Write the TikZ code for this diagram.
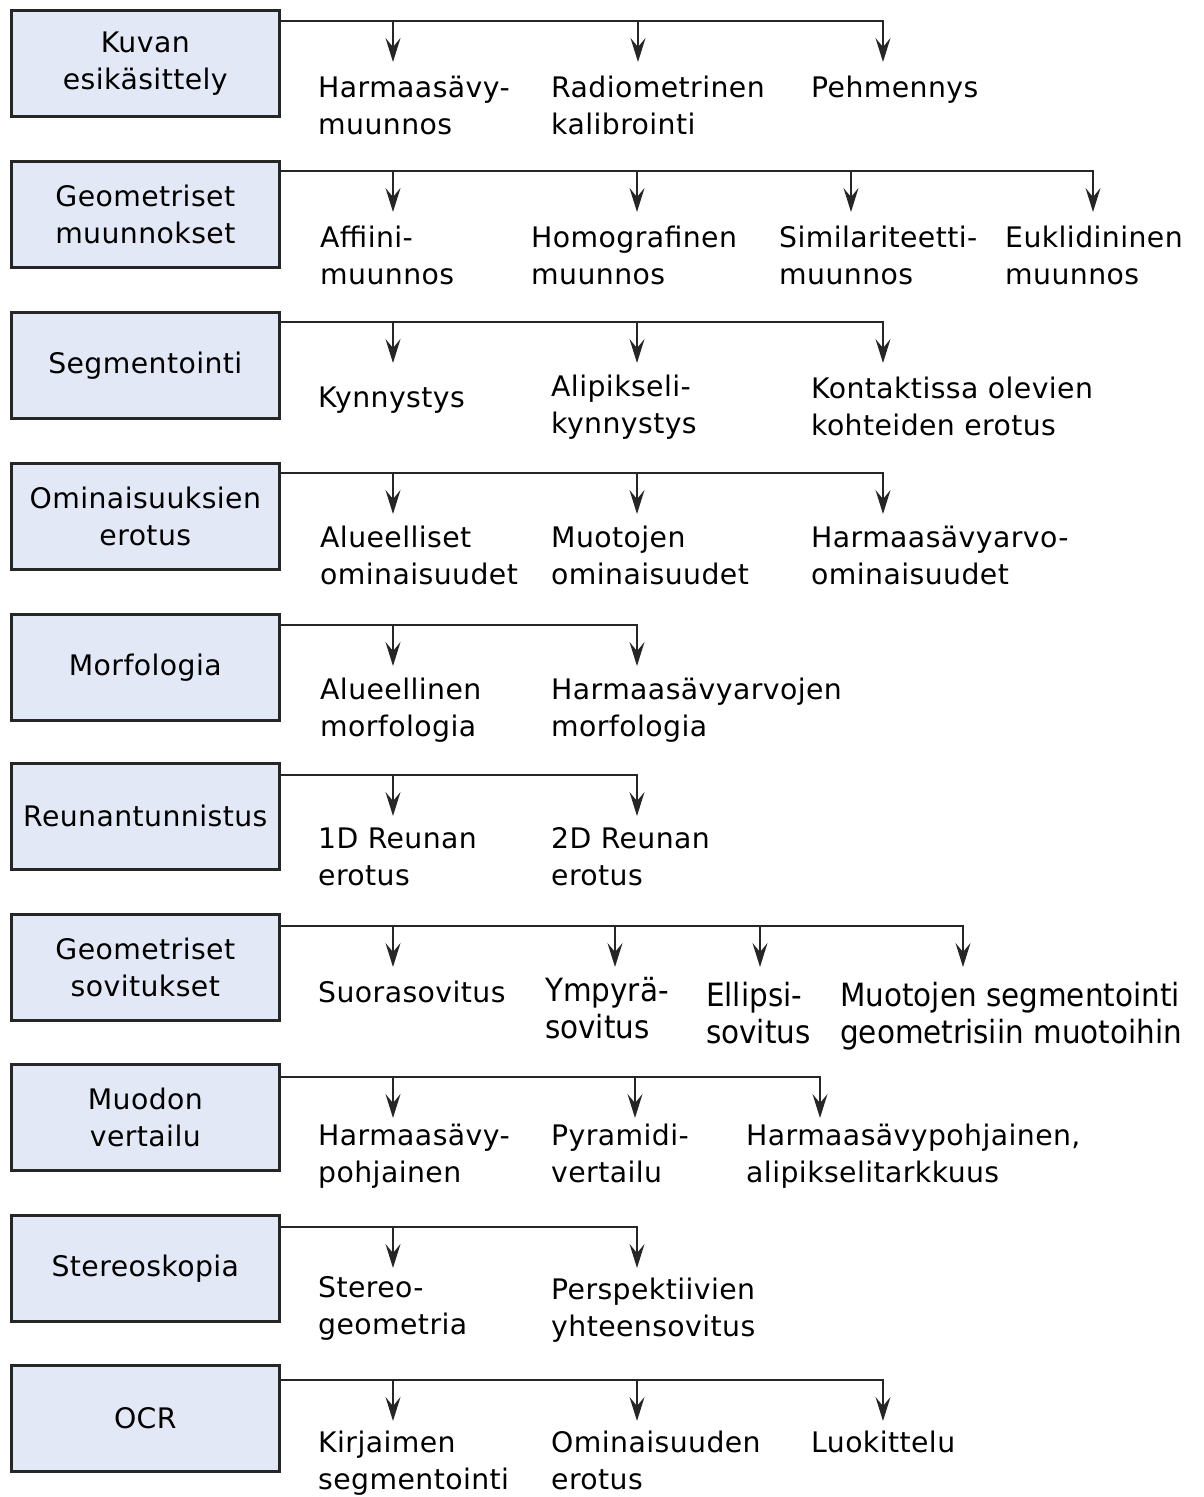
\documentclass[tikz,border=0pt]{standalone}
\usepackage{fontspec}
\setmainfont{DejaVu Sans}[LetterSpace=1.5]
\newfontfamily\condfont{DejaVu Sans}[FakeStretch=0.92]
\usetikzlibrary{arrows.meta}
\definecolor{boxfill}{HTML}{E3E8F6}
\tikzset{
  catbox/.style={draw=black!85, line width=2.6pt, fill=boxfill, minimum width=268pt,
    minimum height=106pt, anchor=north west, align=center, inner sep=0pt,
    font=\fontsize{28.3}{37}\selectfont},
  leaf/.style={anchor=base west, align=left, inner sep=0pt, font=\fontsize{28.3}{37}\selectfont},
  condleaf/.style={anchor=base west, align=left, inner sep=0pt, font=\condfont\fontsize{32}{37}\selectfont},
  conn/.style={line width=1.4pt, draw=black!85},
  arr/.style={conn, -{Stealth[length=24pt,width=15pt,inset=9pt]}},
}
\begin{document}
\begin{tikzpicture}[x=1pt,y=-1pt]
\useasboundingbox (0,0) rectangle (1203,1497);

% ---------- Row 1
\node[catbox] (b1) at (10,9) {Kuvan\\esikäsittely};
\coordinate (b1s) at (278,21);
\coordinate (r1a) at (393,62); \coordinate (r1b) at (638,62); \coordinate (r1c) at (883,62);
\draw[arr] (b1s) -| (r1c);
\draw[arr] (b1s -| r1a) -- (r1a);
\draw[arr] (b1s -| r1b) -- (r1b);
\node[leaf] (t1a) at (318,134) {Harmaasävy-\\muunnos};
\node[leaf] (t1b) at (551,134) {Radiometrinen\\kalibrointi};
\node[leaf] (t1c) at (811,97) {Pehmennys};

% ---------- Row 2
\node[catbox] (b2) at (10,160) {Geometriset\\muunnokset};
\coordinate (b2s) at (278,171);
\coordinate (r2a) at (393,212); \coordinate (r2b) at (637,212); \coordinate (r2c) at (851,212); \coordinate (r2d) at (1093,212);
\draw[arr] (b2s) -| (r2d);
\draw[arr] (b2s -| r2a) -- (r2a);
\draw[arr] (b2s -| r2b) -- (r2b);
\draw[arr] (b2s -| r2c) -- (r2c);
\node[leaf] (t2a) at (320,284) {Affiini-\\muunnos};
\node[leaf] (t2b) at (531,284) {Homografinen\\muunnos};
\node[leaf] (t2c) at (779,284) {Similariteetti-\\muunnos};
\node[leaf] (t2d) at (1005,284) {Euklidininen\\muunnos};

% ---------- Row 3
\node[catbox] (b3) at (10,311) {Segmentointi};
\coordinate (b3s) at (278,322);
\coordinate (r3a) at (393,363); \coordinate (r3b) at (637,363); \coordinate (r3c) at (883,363);
\draw[arr] (b3s) -| (r3c);
\draw[arr] (b3s -| r3a) -- (r3a);
\draw[arr] (b3s -| r3b) -- (r3b);
\node[leaf] (t3a) at (318,407) {Kynnystys};
\node[leaf] (t3b) at (551,433) {Alipikseli-\\kynnystys};
\node[leaf] (t3c) at (811,435) {Kontaktissa olevien\\kohteiden erotus};

% ---------- Row 4
\node[catbox] (b4) at (10,462) {Ominaisuuksien\\erotus};
\coordinate (b4s) at (278,473);
\coordinate (r4a) at (393,514); \coordinate (r4b) at (637,514); \coordinate (r4c) at (883,514);
\draw[arr] (b4s) -| (r4c);
\draw[arr] (b4s -| r4a) -- (r4a);
\draw[arr] (b4s -| r4b) -- (r4b);
\node[leaf] (t4a) at (320,584) {Alueelliset\\ominaisuudet};
\node[leaf] (t4b) at (551,584) {Muotojen\\ominaisuudet};
\node[leaf] (t4c) at (811,584) {Harmaasävyarvo-\\ominaisuudet};

% ---------- Row 5
\node[catbox] (b5) at (10,613) {Morfologia};
\coordinate (b5s) at (278,625);
\coordinate (r5a) at (393,666); \coordinate (r5b) at (637,666);
\draw[arr] (b5s) -| (r5b);
\draw[arr] (b5s -| r5a) -- (r5a);
\node[leaf] (t5a) at (320,736) {Alueellinen\\morfologia};
\node[leaf] (t5b) at (551,736) {Harmaasävyarvojen\\morfologia};

% ---------- Row 6
\node[catbox] (b6) at (10,762) {Reunantunnistus};
\coordinate (b6s) at (278,775);
\coordinate (r6a) at (393,816); \coordinate (r6b) at (637,816);
\draw[arr] (b6s) -| (r6b);
\draw[arr] (b6s -| r6a) -- (r6a);
\node[leaf] (t6a) at (318,885) {1D Reunan\\erotus};
\node[leaf] (t6b) at (551,885) {2D Reunan\\erotus};

% ---------- Row 7
\node[catbox] (b7) at (10,913) {Geometriset\\sovitukset};
\coordinate (b7s) at (278,926);
\coordinate (r7a) at (393,967); \coordinate (r7b) at (615,967); \coordinate (r7c) at (760,967); \coordinate (r7d) at (963,967);
\draw[arr] (b7s) -| (r7d);
\draw[arr] (b7s -| r7a) -- (r7a);
\draw[arr] (b7s -| r7b) -- (r7b);
\draw[arr] (b7s -| r7c) -- (r7c);
\node[leaf] (t7a) at (318,1002) {Suorasovitus};
\node[condleaf] (t7b) at (545,1038) {Ympyrä-\\sovitus};
\node[condleaf] (t7c) at (706,1043) {Ellipsi-\\sovitus};
\node[condleaf] (t7d) at (840,1043) {Muotojen segmentointi\\geometrisiin muotoihin};

% ---------- Row 8
\node[catbox] (b8) at (10,1063) {Muodon\\vertailu};
\coordinate (b8s) at (278,1077);
\coordinate (r8a) at (393,1118); \coordinate (r8b) at (635,1118); \coordinate (r8c) at (820,1118);
\draw[arr] (b8s) -| (r8c);
\draw[arr] (b8s -| r8a) -- (r8a);
\draw[arr] (b8s -| r8b) -- (r8b);
\node[leaf] (t8a) at (318,1182) {Harmaasävy-\\pohjainen};
\node[leaf] (t8b) at (551,1182) {Pyramidi-\\vertailu};
\node[leaf] (t8c) at (746,1182) {Harmaasävypohjainen,\\alipikselitarkkuus};

% ---------- Row 9
\node[catbox] (b9) at (10,1214) {Stereoskopia};
\coordinate (b9s) at (278,1227);
\coordinate (r9a) at (393,1268); \coordinate (r9b) at (637,1268);
\draw[arr] (b9s) -| (r9b);
\draw[arr] (b9s -| r9a) -- (r9a);
\node[leaf] (t9a) at (318,1334) {Stereo-\\geometria};
\node[leaf] (t9b) at (551,1336) {Perspektiivien\\yhteensovitus};

% ---------- Row 10
\node[catbox] (b10) at (10,1364) {OCR};
\coordinate (b10s) at (278,1380);
\coordinate (r10a) at (393,1421); \coordinate (r10b) at (637,1421); \coordinate (r10c) at (883,1421);
\draw[arr] (b10s) -| (r10c);
\draw[arr] (b10s -| r10a) -- (r10a);
\draw[arr] (b10s -| r10b) -- (r10b);
\node[leaf] (t10a) at (318,1489) {Kirjaimen\\segmentointi};
\node[leaf] (t10b) at (551,1489) {Ominaisuuden\\erotus};
\node[leaf] (t10c) at (811,1452) {Luokittelu};
\end{tikzpicture}
\end{document}
